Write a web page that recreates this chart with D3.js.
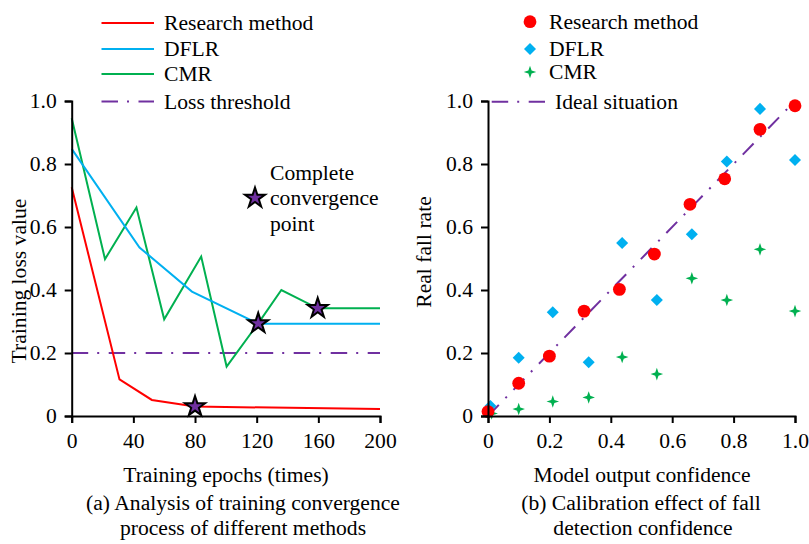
<!DOCTYPE html>
<html><head><meta charset="utf-8">
<script src="https://cdn.jsdelivr.net/npm/d3@7"></script>
<style>
body{margin:0;background:#fff;}
svg text{font-family:"Liberation Serif","Times New Roman",Tinos,Times,"DejaVu Serif",serif !important;fill:#000;}
</style></head>
<body><svg id="c" width="809" height="544"></svg>
<script>
// ---------- data: (a) training convergence ----------
const researchEpochs = [0, 31, 52, 80, 200];
const researchLoss   = [0.726, 0.116, 0.051, 0.030, 0.022];
const dflrEpochs = [0, 44, 78, 121, 200];
const dflrLoss   = [0.848, 0.535, 0.395, 0.293, 0.293];
const cmrEpochs = [0, 21.6, 42, 60, 84, 100.5, 121, 136, 159.6, 200];
const cmrLoss   = [0.945, 0.498, 0.662, 0.307, 0.506, 0.157, 0.294, 0.400, 0.342, 0.342];
const lossThreshold = 0.2;
const convergenceEpochs = [80, 121, 159.6];
const convergenceLoss   = [0.030, 0.294, 0.342];
const epochTicks = [0, 40, 80, 120, 160, 200];
const lossTicks = [0, 0.2, 0.4, 0.6, 0.8, 1.0];
const lossTickLabels = ["0", "0.2", "0.4", "0.6", "0.8", "1.0"];

// ---------- data: (b) calibration ----------
const researchConf = [0, 0.1, 0.2, 0.313, 0.428, 0.542, 0.658, 0.771, 0.886, 1.0];
const researchRate = [0.014, 0.104, 0.19, 0.333, 0.402, 0.514, 0.672, 0.753, 0.91, 0.985];
const dflrConf = [0.008, 0.1, 0.211, 0.328, 0.437, 0.55, 0.664, 0.778, 0.886, 1.0];
const dflrRate = [0.032, 0.185, 0.329, 0.171, 0.549, 0.368, 0.577, 0.808, 0.975, 0.813];
const cmrConf = [0.012, 0.1, 0.211, 0.328, 0.437, 0.55, 0.664, 0.778, 0.886, 1.0];
const cmrRate = [0.008, 0.022, 0.046, 0.059, 0.187, 0.133, 0.437, 0.368, 0.529, 0.333];
const idealConf = [0, 1];
const idealRate = [0, 1];
const confTicks = [0, 0.2, 0.4, 0.6, 0.8, 1.0];
const confTickLabels = ["0", "0.2", "0.4", "0.6", "0.8", "1.0"];
const rateTicks = [0, 0.2, 0.4, 0.6, 0.8, 1.0];
const rateTickLabels = ["0", "0.2", "0.4", "0.6", "0.8", "1.0"];

const RED = "#FF0000", BLUE = "#00B0F0", GREEN = "#00B050", PURPLE = "#7030A0";
const FS = 21.6;
const FONT = '"Liberation Serif","Times New Roman",Tinos,Times,"DejaVu Serif",serif';
const DASHDOT = "16.5,9,2,9.5";

const svg = d3.select("#c");
const zip = (a, b) => a.map((v, i) => [v, b[i]]);

// custom 4-point star symbol
const sparkle = { draw(ctx, size) {
  const R = Math.sqrt(size) * 0.75, r = R * 0.36;
  for (let i = 0; i < 8; i++) {
    const a = -Math.PI / 2 + i * Math.PI / 4;
    const rr = i % 2 === 0 ? R : r;
    const x = rr * Math.cos(a), y = rr * Math.sin(a);
    if (i === 0) ctx.moveTo(x, y); else ctx.lineTo(x, y);
  }
  ctx.closePath();
}};

function styleAxis(g) {
  g.attr("font-family", FONT);
  g.select(".domain").attr("stroke", "#000").attr("stroke-width", 2);
  g.selectAll(".tick line").attr("stroke", "#000").attr("stroke-width", 2);
  g.selectAll(".tick text").attr("font-size", FS).attr("font-family", FONT).attr("fill", "#000");
}
function txt(g, x, y, s, anchor) {
  return g.append("text").attr("x", x).attr("y", y).attr("font-size", FS)
    .attr("font-family", FONT).attr("text-anchor", anchor || "start").text(s);
}

// ================= Panel (a) =================
const xA = d3.scaleLinear().domain([0, 200]).range([71.7, 380]);
const yA = d3.scaleLinear().domain([0, 1]).range([416, 101]);

const gA = svg.append("g");
const line = (xs, ys) => d3.line().x(d => xs(d[0])).y(d => ys(d[1]));

gA.append("path").datum([[0, lossThreshold], [200, lossThreshold]])
  .attr("d", line(xA, yA)).attr("fill", "none").attr("stroke", PURPLE)
  .attr("stroke-width", 2).attr("stroke-dasharray", DASHDOT);

[[cmrEpochs, cmrLoss, GREEN], [dflrEpochs, dflrLoss, BLUE], [researchEpochs, researchLoss, RED]]
.forEach(([xs, ys, c]) => {
  gA.append("path").datum(zip(xs, ys)).attr("d", line(xA, yA))
    .attr("fill", "none").attr("stroke", c).attr("stroke-width", 2).attr("stroke-linejoin", "miter");
});

const star = d3.symbol().type(d3.symbolStar).size(125);
gA.selectAll(".cstar").data(zip(convergenceEpochs, convergenceLoss)).join("path")
  .attr("transform", d => `translate(${xA(d[0])},${yA(d[1])})`)
  .attr("d", star).attr("fill", PURPLE).attr("stroke", "#000").attr("stroke-width", 2);

const axA_x = gA.append("g").attr("transform", "translate(0,416)")
  .call(d3.axisBottom(xA).tickValues(epochTicks).tickSize(7).tickPadding(10).tickFormat(d3.format("d")));
styleAxis(axA_x);
const axA_y = gA.append("g").attr("transform", "translate(71.7,0)")
  .call(d3.axisLeft(yA).tickValues(lossTicks).tickSize(7).tickPadding(8).tickFormat((d, i) => lossTickLabels[i]));
styleAxis(axA_y);

// legend (a)
const legA = [["Research method", RED, null], ["DFLR", BLUE, null], ["CMR", GREEN, null], ["Loss threshold", PURPLE, DASHDOT]];
const legAy = [23, 49, 74, 101.5];
legA.forEach((d, i) => {
  gA.append("line").attr("x1", 101.5).attr("x2", 154).attr("y1", legAy[i]).attr("y2", legAy[i])
    .attr("stroke", d[1]).attr("stroke-width", 2).attr("stroke-dasharray", d[2]);
  txt(gA, 164, legAy[i] + 7, d[0]);
});

// annotation
gA.append("path").attr("transform", "translate(255,198)").attr("d", star)
  .attr("fill", PURPLE).attr("stroke", "#000").attr("stroke-width", 2);
["Complete", "convergence", "point"].forEach((t, i) => txt(gA, 270, 179.5 + i * 25.5, t));

txt(gA, 226, 482, "Training epochs (times)", "middle");
gA.append("text").attr("transform", "translate(26,281) rotate(-90)").attr("text-anchor", "middle")
  .attr("font-size", FS).attr("font-family", FONT).text("Training loss value");
txt(gA, 243, 510, "(a) Analysis of training convergence", "middle");
txt(gA, 243, 535, "process of different methods", "middle");

// ================= Panel (b) =================
const xB = d3.scaleLinear().domain([0, 1]).range([488, 795]);
const yB = d3.scaleLinear().domain([0, 1]).range([416, 101]);
const gB = svg.append("g");

gB.append("path").datum(zip(idealConf, idealRate)).attr("d", line(xB, yB))
  .attr("fill", "none").attr("stroke", PURPLE).attr("stroke-width", 2).attr("stroke-dasharray", "15.5,9.5,2,9.5");

const diamond = d3.symbol().type(d3.symbolDiamond2).size(92);
const spark = d3.symbol().type(sparkle).size(70);
const circ = d3.symbol().type(d3.symbolCircle).size(Math.PI * 6.4 * 6.4);

gB.selectAll(".cmr").data(zip(cmrConf, cmrRate)).join("path")
  .attr("transform", d => `translate(${xB(d[0])},${yB(d[1])})`).attr("d", spark).attr("fill", GREEN);
gB.selectAll(".dflr").data(zip(dflrConf, dflrRate)).join("path")
  .attr("transform", d => `translate(${xB(d[0])},${yB(d[1])})`).attr("d", diamond).attr("fill", BLUE);
gB.selectAll(".res").data(zip(researchConf, researchRate)).join("path")
  .attr("transform", d => `translate(${xB(d[0])},${yB(d[1])})`).attr("d", circ).attr("fill", RED);

const axB_x = gB.append("g").attr("transform", "translate(0,416)")
  .call(d3.axisBottom(xB).tickValues(confTicks).tickSize(7).tickPadding(10).tickFormat((d, i) => confTickLabels[i]));
styleAxis(axB_x);
const axB_y = gB.append("g").attr("transform", "translate(488,0)")
  .call(d3.axisLeft(yB).tickValues(rateTicks).tickSize(7).tickPadding(8).tickFormat((d, i) => rateTickLabels[i]));
styleAxis(axB_y);

// legend (b)
const legBy = [21.7, 49, 72];
gB.append("path").attr("transform", `translate(530,${legBy[0]})`).attr("d", circ).attr("fill", RED);
gB.append("path").attr("transform", `translate(530,${legBy[1]})`).attr("d", diamond).attr("fill", BLUE);
gB.append("path").attr("transform", `translate(530,${legBy[2]})`).attr("d", spark).attr("fill", GREEN);
["Research method", "DFLR", "CMR"].forEach((t, i) => txt(gB, 549, legBy[i] + 7, t));
gB.append("line").attr("x1", 491.7).attr("x2", 545).attr("y1", 101.7).attr("y2", 101.7)
  .attr("stroke", PURPLE).attr("stroke-width", 2).attr("stroke-dasharray", DASHDOT);
txt(gB, 555, 108.7, "Ideal situation");

txt(gB, 642, 482, "Model output confidence", "middle");
gB.append("text").attr("transform", "translate(431,252) rotate(-90)").attr("text-anchor", "middle")
  .attr("font-size", FS).attr("font-family", FONT).text("Real fall rate");
txt(gB, 641, 510, "(b) Calibration effect of fall", "middle");
txt(gB, 643, 535, "detection confidence", "middle");
</script></body></html>
